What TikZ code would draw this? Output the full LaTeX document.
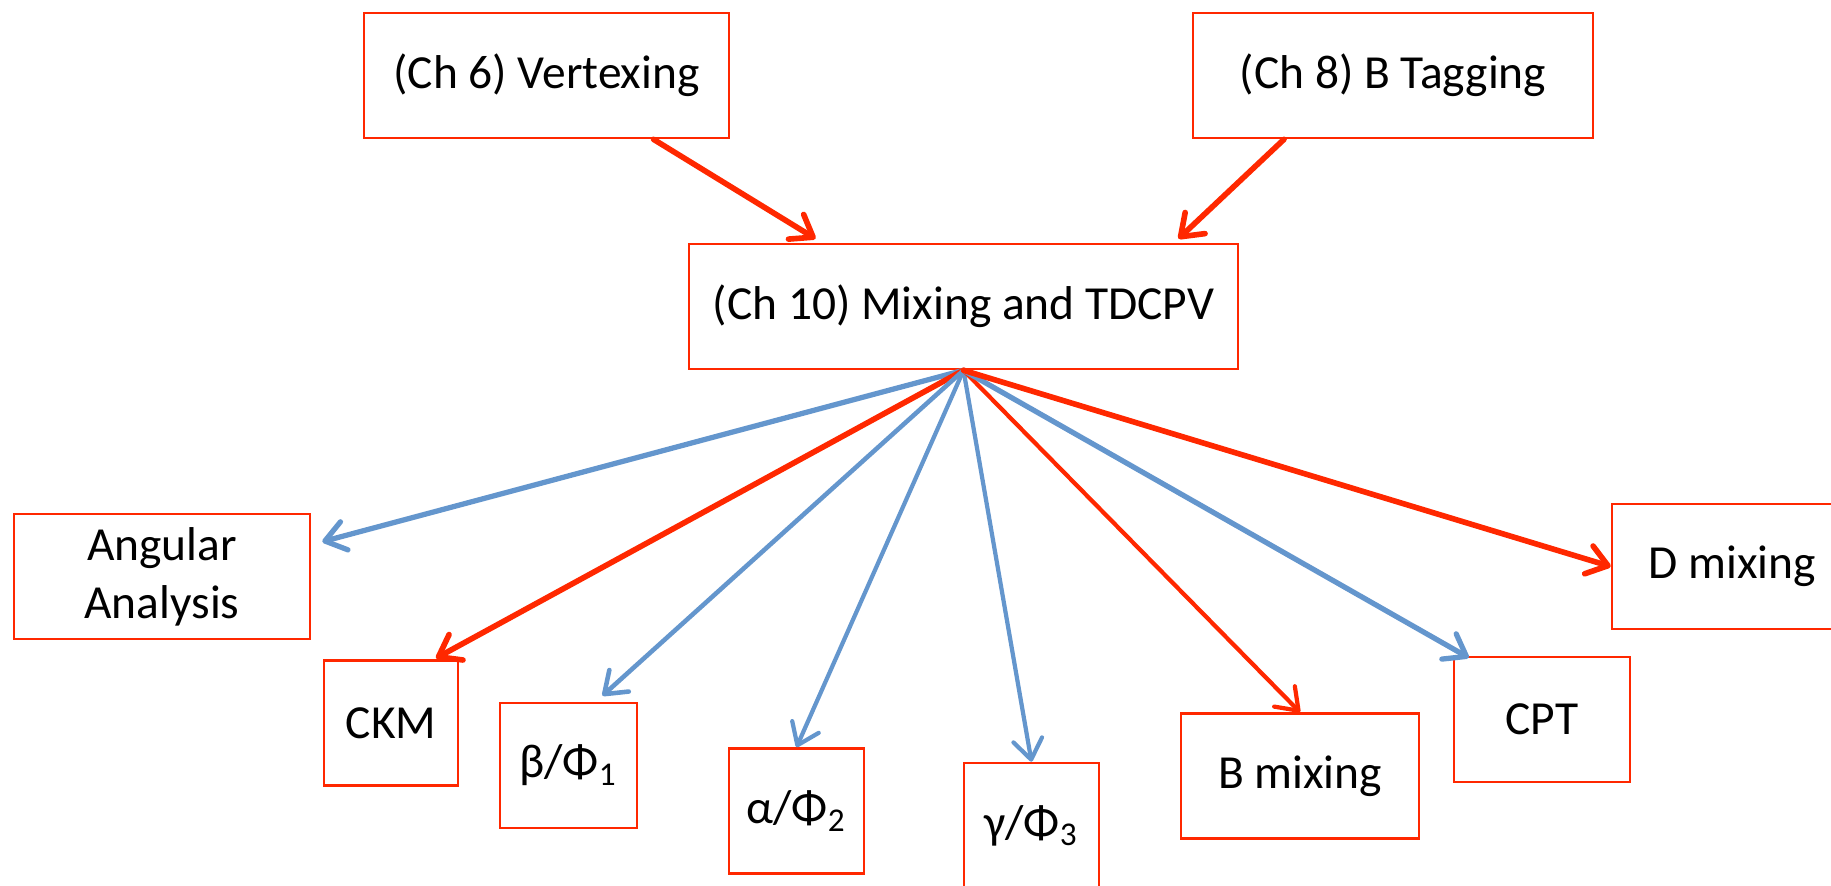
\documentclass[tikz,border=0pt]{standalone}
\usepackage{fontspec}
\setmainfont{Carlito}
\usepackage{tikz}
\usetikzlibrary{arrows.meta}
\definecolor{boxred}{RGB}{255,40,0}
\definecolor{arrblue}{RGB}{100,150,205}
\tikzset{>={Straight Barb[length=2mm,width=2.9mm,round]}}
\tikzset{box/.style={draw=boxred,line width=0.75pt,minimum height=1.25cm,inner sep=0pt,align=center,font=\fontsize{13.5}{16.5}\selectfont}}
\tikzset{redarr/.style={->,draw=boxred,line width=1.6pt,line cap=round}}
\tikzset{bluearr/.style={->,draw=arrblue,line width=1.5pt,line cap=round}}

\begin{document}
\begin{tikzpicture}
                \useasboundingbox (0,0) rectangle (18.31,8.85);
                \node[box,minimum width=3.65cm] (vtx) at (5.465,8.095) {(Ch 6) Vertexing};
                \node[box,minimum width=4cm] (btag) at (13.93,8.095) {(Ch 8) B Tagging};
                \node[box,minimum width=5.49cm] (mix) at (9.635,5.785) {(Ch 10) Mixing and TDCPV};
                \node[box,minimum width=2.96cm] (ang) at (1.62,3.085) {Angular\\Analysis};
                \node[box,minimum width=1.34cm] (ckm) at (3.91,1.62) {CKM};
                \node[box,minimum width=1.37cm] (beta) at (5.685,1.195) {β/Φ\textsubscript{1}};
                \node[box,minimum width=1.35cm] (alpha) at (7.965,0.74) {α/Φ\textsubscript{2}};
                \node[box,minimum width=1.35cm] (gamma) at (10.315,0.595) {γ/Φ\textsubscript{3}};
                \node[box,minimum width=2.38cm] (bmix) at (13.0,1.09) {B mixing};
                \node[box,minimum width=1.76cm] (cpt) at (15.42,1.655) {CPT};
                \node[box,minimum width=2.4cm] (dmix) at (17.32,3.185) {D mixing};
                \draw[redarr] ([xshift=1.07cm]vtx.south) -- ([shift={(-1.48,0.04)}]mix.north);
                \draw[redarr] ([xshift=-1.09cm]btag.south) -- ([shift={(2.15,0.04)}]mix.north);
                \draw[bluearr] (mix.south) -- ([shift={(0.11,-0.29)}]ang.north east);
                \draw[redarr] (mix.south) -- ([shift={(0.45,0.01)}]ckm.north);
                \draw[bluearr,line width=1.3pt] (mix.south) -- ([shift={(0.34,0.06)}]beta.north);
                \draw[bluearr,line width=1.2pt] (mix.south) -- (alpha.north);
                \draw[bluearr,line width=1.2pt] (mix.south) -- (gamma.north);
                \draw[redarr,line width=1.2pt] (mix.south) -- (bmix.north);
                \draw[bluearr] (mix.south) -- ([shift={(0.16,-0.02)}]cpt.north west);
                \draw[redarr] (mix.south) -- (dmix.west);
\end{tikzpicture}
\end{document}
